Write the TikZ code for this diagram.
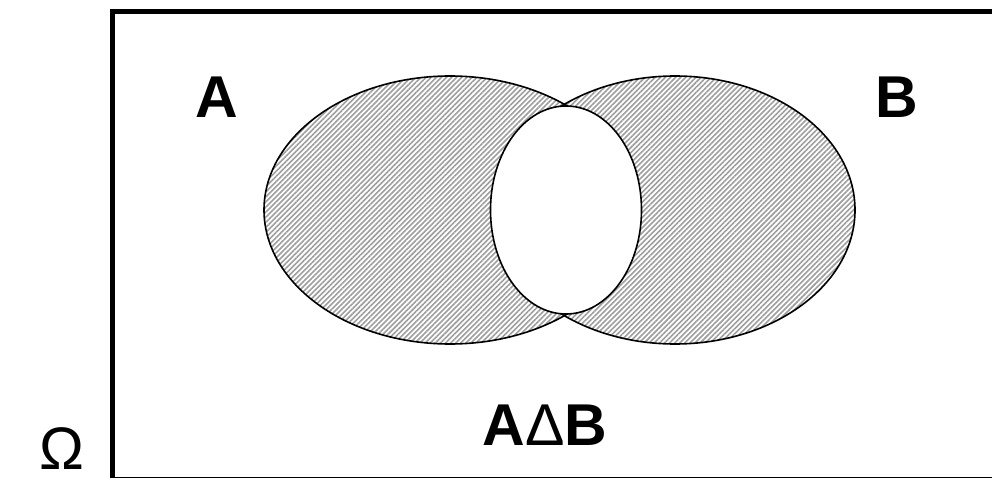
\documentclass[tikz,border=0pt]{standalone}
\usepackage{fontspec}
\setmainfont{Liberation Sans}
\usetikzlibrary{patterns.meta}
\tikzset{
  hatched/.style={pattern={Lines[angle=45,distance=3.6pt,line width=1.6pt]},pattern color=black!38},
  setline/.style={draw=black,line width=1.6pt},
  biglabel/.style={font=\fontsize{59}{62}\selectfont\bfseries,inner sep=0pt},
}
\begin{document}
\begin{tikzpicture}[x=1pt,y=-1pt]
\useasboundingbox (0,0) rectangle (992,478);
\clip (0,0) rectangle (992,478);
\fill[white] (0,0) rectangle (992,478);
% universe rectangle
\draw[line width=5pt] (112.5,12) rectangle (1010,479.8);
% sets
\fill[hatched] (450,210) ellipse [x radius=186,y radius=134];
\fill[hatched] (675,210) ellipse [x radius=180,y radius=134];
\draw[setline] (450,210) ellipse [x radius=186,y radius=134];
\draw[setline] (675,210) ellipse [x radius=180,y radius=134];
\filldraw[fill=white,setline] (566,210) ellipse [x radius=75.5,y radius=104];
% labels
\node[biglabel] (la) at (217,97) {A};
\node[biglabel] (lb) at (897,97) {B};
\node[biglabel] (lab) at (545,425) {A{\mdseries Δ}B};
\node[font=\fontsize{60}{62}\selectfont,inner sep=0pt,text depth=0pt,anchor=base] (om) at (62,469) {Ω};
\end{tikzpicture}
\end{document}
